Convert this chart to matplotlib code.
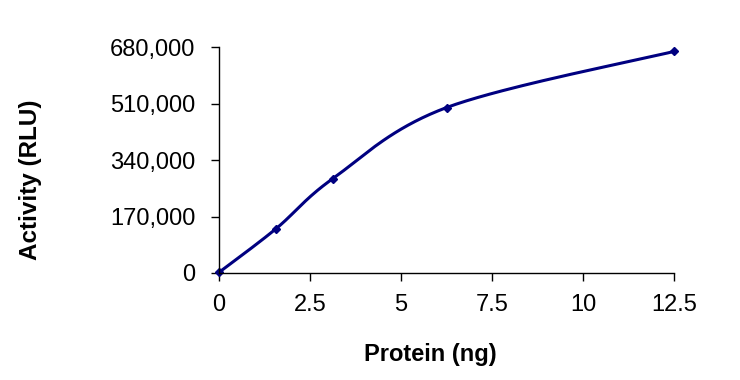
import matplotlib
matplotlib.use("Agg")
import matplotlib.pyplot as plt
import numpy as np
from matplotlib.ticker import FuncFormatter

# data (protein dilution series)
protein_ng = [0, 1.5625, 3.125, 6.25, 12.5]
activity_rlu = [2000, 133000, 284000, 498000, 667000]

x_ticks = [0, 2.5, 5, 7.5, 10, 12.5]
y_ticks = [0, 170000, 340000, 510000, 680000]

plt.rcParams['font.family'] = ['Liberation Sans', 'DejaVu Sans']

fig = plt.figure(figsize=(7.4, 3.8), dpi=100)
ax = fig.add_axes([0.296, 0.2816, 0.615, 0.5945])
ax.set_xlim(0, 12.5)
ax.set_ylim(0, 680000)


def smooth_curve(xs, ys, sx, sy, n=40):
    # Catmull-Rom style smoothing done in (approx) screen space, like a spreadsheet smoothed line
    P = np.column_stack([np.asarray(xs) * sx, np.asarray(ys) * sy])
    out = []
    for i in range(len(P) - 1):
        p0 = P[i - 1] if i > 0 else P[i]
        p1, p2 = P[i], P[i + 1]
        p3 = P[i + 2] if i + 2 < len(P) else P[i + 1]
        c1 = p1 + (p2 - p0) / 6.0
        c2 = p2 - (p3 - p1) / 6.0
        t = np.linspace(0, 1, n)[:, None]
        seg = (1 - t) ** 3 * p1 + 3 * (1 - t) ** 2 * t * c1 + 3 * (1 - t) * t ** 2 * c2 + t ** 3 * p2
        out.append(seg if i == 0 else seg[1:])
    pts = np.vstack(out)
    return pts[:, 0] / sx, pts[:, 1] / sy


# pixels per data unit (axes ~455 x 226 px)
cx, cy = smooth_curve(protein_ng, activity_rlu, 455 / 12.5, 226 / 680000)
ax.plot(cx, cy, color='#000080', lw=2.2, solid_capstyle='round', clip_on=False)
ax.plot(protein_ng, activity_rlu, ls='none', marker='D', ms=4.5, color='#000080', clip_on=False)

ax.set_xticks(x_ticks)
ax.set_yticks(y_ticks)
ax.xaxis.set_major_formatter(FuncFormatter(lambda v, p: f'{v:g}'))
ax.yaxis.set_major_formatter(FuncFormatter(lambda v, p: f'{int(v):,}'))

for s in ['top', 'right']:
    ax.spines[s].set_visible(False)
for s in ['left', 'bottom']:
    ax.spines[s].set_color('black')
    ax.spines[s].set_linewidth(1.0)

ax.tick_params(axis='both', direction='out', length=6, width=1, color='black',
               labelsize=17)
ax.tick_params(axis='x', pad=9)
ax.tick_params(axis='y', pad=11)

fig.text(0.5818, 0.066, 'Protein (ng)', ha='center', va='center', fontsize=17, fontweight='bold')
fig.text(0.041, 0.526, 'Activity (RLU)', ha='center', va='center', rotation=90,
         fontsize=17.5, fontweight='bold')

fig.savefig('out.png', dpi=100)
